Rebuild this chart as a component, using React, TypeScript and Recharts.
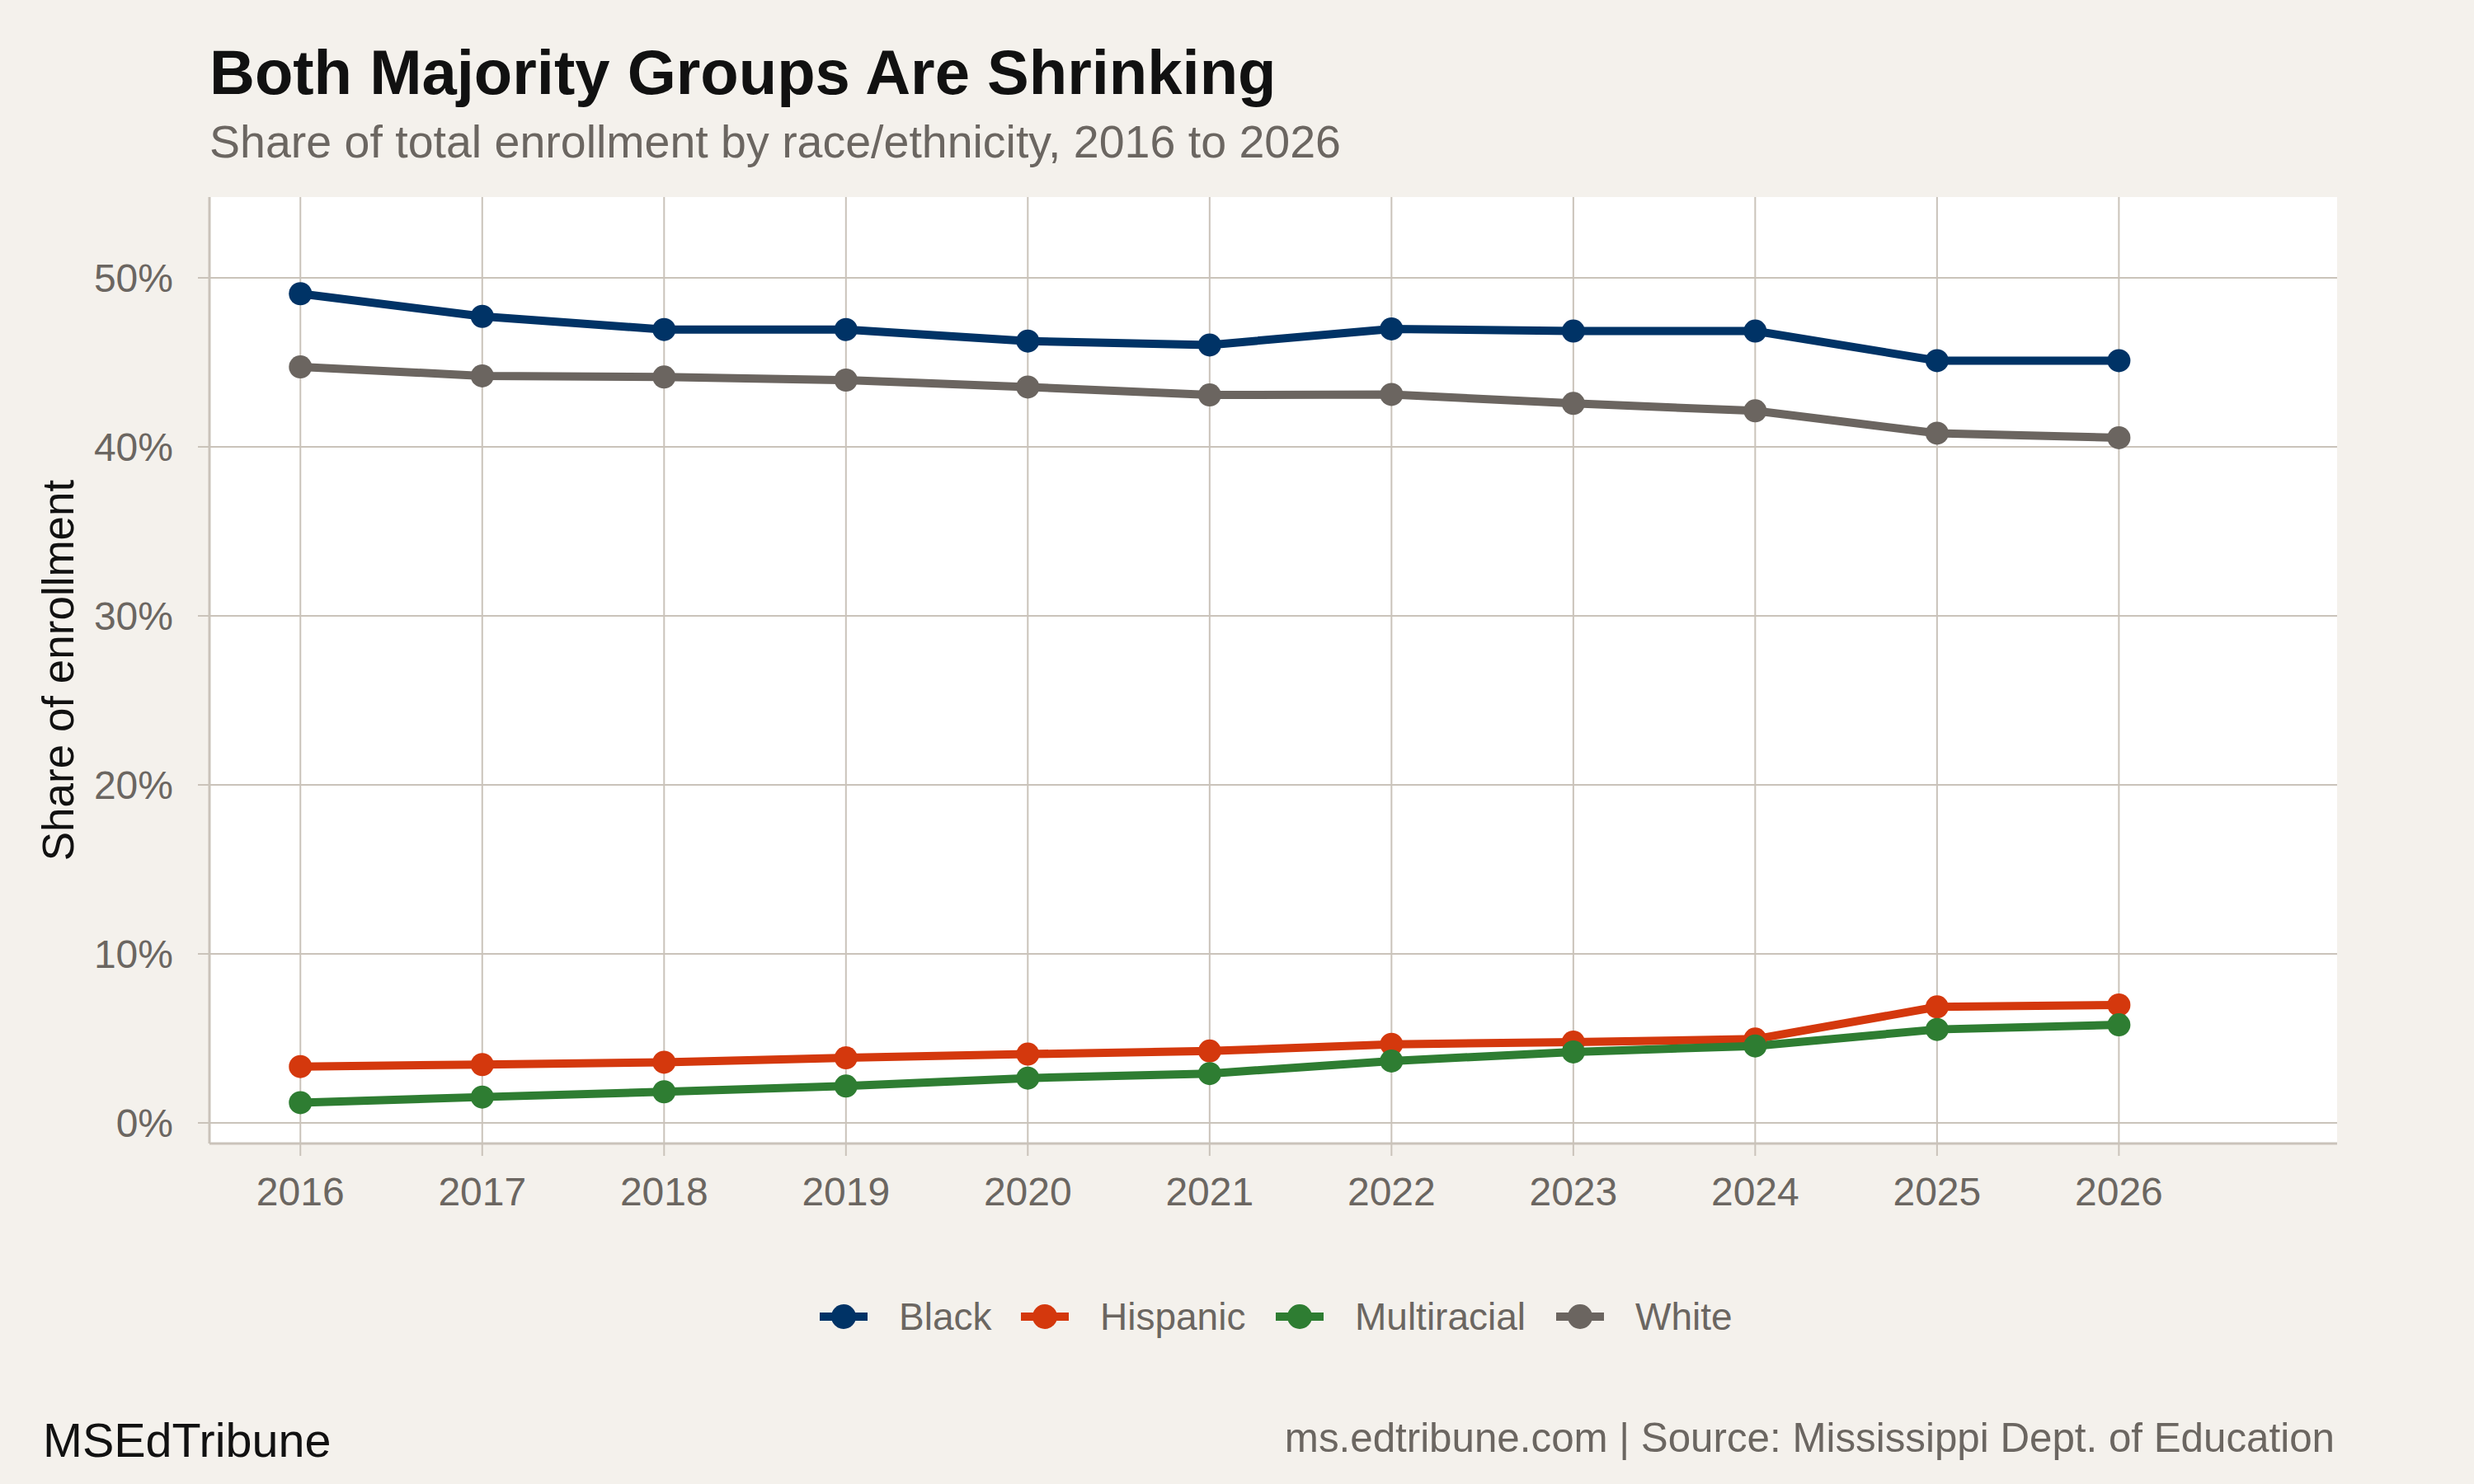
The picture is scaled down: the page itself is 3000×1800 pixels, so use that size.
import { LineChart, Line, XAxis, YAxis, CartesianGrid } from "recharts";

// school years (spring of the year)
const years = [2016, 2017, 2018, 2019, 2020, 2021, 2022, 2023, 2024, 2025, 2026];

// share of total enrollment, percent
const black = [49.06, 47.72, 46.94, 46.94, 46.26, 46.03, 46.98, 46.85, 46.85, 45.1, 45.1];
const hispanic = [3.33, 3.45, 3.59, 3.85, 4.07, 4.25, 4.65, 4.78, 4.96, 6.86, 6.98];
const multiracial = [1.2, 1.53, 1.84, 2.18, 2.65, 2.92, 3.66, 4.2, 4.55, 5.53, 5.8];
const white = [44.73, 44.2, 44.13, 43.95, 43.54, 43.07, 43.1, 42.57, 42.13, 40.81, 40.54];

const yTicks = [0, 10, 20, 30, 40, 50];

const seriesNames = ["Black", "Hispanic", "Multiracial", "White"];
const seriesColors = ["#003366", "#D4380D", "#2E7D32", "#6B6560"];

const data = years.map((year, i) => ({
  year,
  Black: black[i],
  Hispanic: hispanic[i],
  Multiracial: multiracial[i],
  White: white[i],
}));

const BG = "#F4F1EC";
const GRID = "#CAC3BA";
const GREY_TEXT = "#6B6661";
const FONT = "'Liberation Sans', Arial, Helvetica, sans-serif";

// where each legend key starts (icon left edge)
const legendX = [994, 1238, 1547, 1887];

export default function App() {
  return (
    <div
      style={{
        position: "absolute",
        left: 0,
        top: 0,
        width: 3000,
        height: 1800,
        background: BG,
        fontFamily: FONT,
      }}
    >
      <LineChart
        width={3000}
        height={1800}
        data={data}
        margin={{ top: 239, right: 166, left: 54, bottom: 353 }}
      >
        {/* sync with ticks so no border lines get added at the panel edges */}
        <CartesianGrid
          stroke={GRID}
          strokeWidth={2}
          fill="#FFFFFF"
          syncWithTicks
        />
        <XAxis
          dataKey="year"
          type="number"
          domain={[2015.5, 2027.2]}
          ticks={years}
          allowDataOverflow
          height={60}
          axisLine={{ stroke: GRID, strokeWidth: 3 }}
          tickLine={{ stroke: GRID, strokeWidth: 2 }}
          tickSize={15}
          tickMargin={26}
          tick={{ fill: GREY_TEXT, fontSize: 48, fontFamily: FONT }}
        />
        <YAxis
          type="number"
          domain={[-1.22, 54.78]}
          ticks={yTicks}
          allowDataOverflow
          width={200}
          axisLine={{ stroke: GRID, strokeWidth: 3 }}
          tickLine={{ stroke: GRID, strokeWidth: 2 }}
          tickSize={14}
          tickMargin={30}
          tickFormatter={(v) => `${v}%`}
          tick={{ fill: GREY_TEXT, fontSize: 48, fontFamily: FONT }}
        />
        {seriesNames.map((name, i) => (
          <Line
            key={name}
            dataKey={name}
            stroke={seriesColors[i]}
            strokeWidth={10}
            dot={{ r: 14, fill: seriesColors[i], stroke: "none" }}
            activeDot={false}
            isAnimationActive={false}
          />
        ))}
      </LineChart>

      <svg
        width={3000}
        height={1800}
        style={{ position: "absolute", left: 0, top: 0, pointerEvents: "none" }}
        fontFamily={FONT}
      >
        <text x={254} y={114} fontSize={76} fontWeight="bold" fill="#111111">
          Both Majority Groups Are Shrinking
        </text>
        <text x={254} y={191} fontSize={55.5} fill={GREY_TEXT}>
          Share of total enrollment by race/ethnicity, 2016 to 2026
        </text>
        <text
          x={89}
          y={813}
          fontSize={53}
          fill="#111111"
          textAnchor="middle"
          transform="rotate(-90 89 813)"
        >
          Share of enrollment
        </text>

        {seriesNames.map((name, i) => (
          <g key={name}>
            <line
              x1={legendX[i]}
              x2={legendX[i] + 58}
              y1={1597}
              y2={1597}
              stroke={seriesColors[i]}
              strokeWidth={10}
            />
            <circle cx={legendX[i] + 29} cy={1597} r={15} fill={seriesColors[i]} />
            <text x={legendX[i] + 96} y={1613} fontSize={46} fill={GREY_TEXT}>
              {name}
            </text>
          </g>
        ))}

        <text x={52} y={1767} fontSize={57.5} fill="#111111">
          MSEdTribune
        </text>
        <text x={2831} y={1761} fontSize={49.3} fill={GREY_TEXT} textAnchor="end">
          ms.edtribune.com | Source: Mississippi Dept. of Education
        </text>
      </svg>
    </div>
  );
}
